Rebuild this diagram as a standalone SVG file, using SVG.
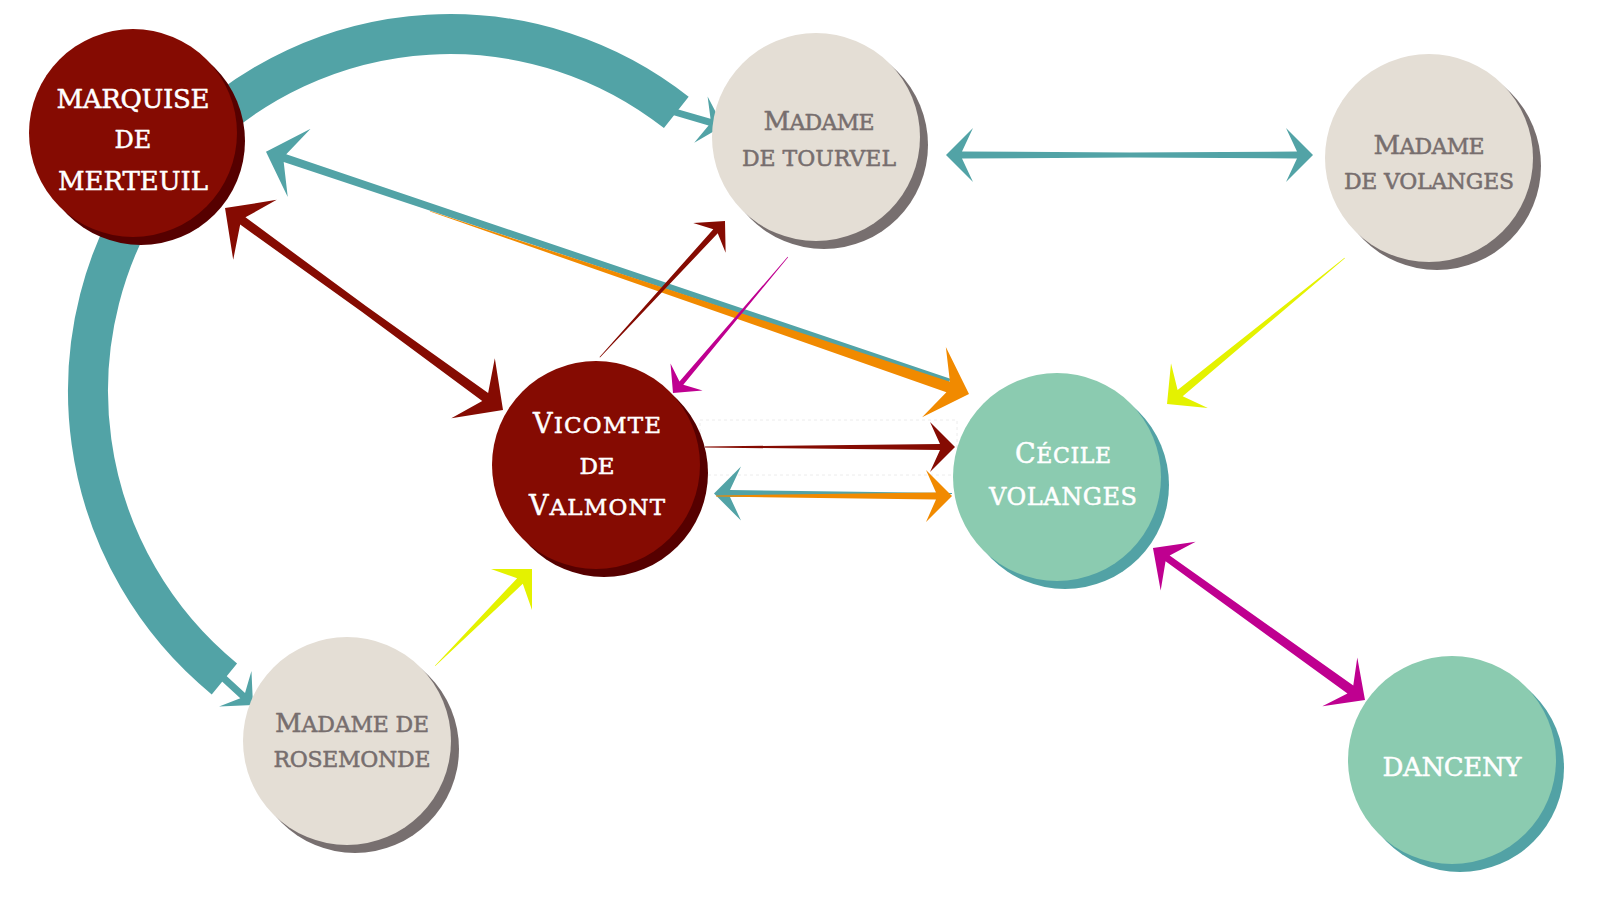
<svg xmlns="http://www.w3.org/2000/svg" width="1600" height="900" viewBox="0 0 1600 900">
<defs>
<style>
.t{font-family:"DejaVu Serif","Liberation Serif",serif;text-anchor:middle;stroke-width:0.5;stroke-linejoin:round}
.w{fill:#ffffff;stroke:#ffffff}
.g{fill:#776E6E;stroke:#776E6E}
.teal{fill:#52A3A6}
.maroon{fill:#850B02}
.orange{fill:#F18A00}
.magenta{fill:#BF0090}
.yellow{fill:#E4F200}
.band{fill:none;stroke:#52A3A6;stroke-width:40;stroke-linecap:butt}
.sh-m{fill:#560000}.fc-m{fill:#850B02}
.sh-b{fill:#776F6F}.fc-b{fill:#E4DED5}
.sh-g{fill:#52A2A5}.fc-g{fill:#8BCBB0}
</style>
</defs>
<rect width="1600" height="900" fill="#ffffff"/>

<g id="connectors">
  <rect x="700" y="420" width="257" height="55" fill="none" stroke="#ececec" stroke-width="1" stroke-dasharray="3,3"/>
  <!-- Merteuil -> Tourvel big arc -->
  <path class="band" d="M191.2,141.2 A366,366 0 0 1 676.3,112.4"/>
  <polygon class="teal" transform="translate(723,126) rotate(16.2)" points="0,0 -23,-24 -14,-3.5 -52,-3.5 -52,3.5 -14,3.5 -23,24"/>
  <!-- Merteuil -> Rosemonde big arc -->
  <path class="band" d="M155.3,177.6 A372,372 0 0 0 224.4,678.9"/>
  <polygon class="teal" transform="translate(253,705) rotate(42.4)" points="0,0 -24,-24 -14,-3.5 -42,-3.5 -42,3.5 -14,3.5 -24,24"/>
  <!-- Tourvel <-> Volanges -->
  <polygon class="teal" transform="translate(1313,155)" points="0,0 -27,-27 -16,-3.5 -183.5,-2.5 -351,-3.5 -340,-27 -367,0 -340,27 -351,3.5 -183.5,2.5 -16,3.5 -27,27"/>
  <!-- Cecile -> Merteuil (teal) -->
  <polygon class="teal" transform="translate(266,151.8) rotate(198.52)" points="0,0 -35,-36 -20,-4 -721,-2.25 -721,2.25 -20,4 -35,36"/>
  <!-- Merteuil -> Cecile (orange) -->
  <polygon class="orange" transform="translate(969,394) rotate(18.73)" points="0,0 -37,-37 -22,-5.5 -569,-0.2 -569,0.2 -22,5.5 -37,37"/>
  <!-- Merteuil <-> Valmont -->
  <polygon class="maroon" transform="translate(503,410) rotate(36)" points="0,0 -37,-37 -22,-5 -172,-3.5 -321.6,-4.5 -306.6,-37 -343.6,0 -306.6,37 -321.6,4.5 -172,3.5 -22,5 -37,37"/>
  <!-- Valmont -> Tourvel -->
  <polygon class="maroon" transform="translate(725,221) rotate(-47.4)" points="0,0 -23,-22 -14,-3 -185,-0.3 -185,0.3 -14,3 -23,22"/>
  <!-- Tourvel -> Valmont -->
  <polygon class="magenta" transform="translate(673,393) rotate(130.2)" points="0,0 -21,-21 -13,-2.5 -178,-0.3 -178,0.3 -13,2.5 -21,21"/>
  <!-- Volanges -> Cecile -->
  <polygon class="yellow" transform="translate(1167,404) rotate(140.6)" points="0,0 -29,-29 -17,-4 -230,-0.3 -230,0.3 -17,4 -29,29"/>
  <!-- Rosemonde -> Valmont -->
  <polygon class="yellow" transform="translate(532,569) rotate(-45)" points="0,0 -29,-29 -17,-4 -137,-0.3 -137,0.3 -17,4 -29,29"/>
  <!-- Valmont -> Cecile -->
  <polygon class="maroon" transform="translate(955,447)" points="0,0 -25,-25 -15,-3 -250,-0.5 -250,0.5 -15,3 -25,25"/>
  <!-- Cecile -> Valmont (teal) -->
  <polygon class="teal" transform="translate(714,493.5) rotate(180)" points="0,0 -27,-27 -16,-3.5 -238,-0.5 -238,0.5 -16,3.5 -27,27"/>
  <!-- Valmont -> Cecile (orange) -->
  <polygon class="orange" transform="translate(952,496)" points="0,0 -26,-26 -16,-3.5 -236,-0.5 -236,0.5 -16,3.5 -26,26"/>
  <!-- Cecile <-> Danceny -->
  <polygon class="magenta" transform="translate(1365,700) rotate(35.64)" points="0,0 -31,-30 -18,-5 -242.9,-3.5 -229.9,-30 -260.9,0 -229.9,30 -242.9,3.5 -18,5 -31,30"/>
</g>

<g id="merteuil">
  <circle class="sh-m" cx="141" cy="141" r="104"/>
  <circle class="fc-m" cx="133" cy="133" r="104"/>
  <text class="t w" x="133" y="108" font-size="26" textLength="153" lengthAdjust="spacing">MARQUISE</text>
  <text class="t w" x="133" y="148" font-size="24">DE</text>
  <text class="t w" x="133" y="190" font-size="26" textLength="150" lengthAdjust="spacing">MERTEUIL</text>
</g>

<g id="tourvel">
  <circle class="sh-b" cx="824" cy="145" r="104"/>
  <circle class="fc-b" cx="816" cy="137" r="104"/>
  <text class="t g" x="819" y="130" font-size="22" textLength="111" lengthAdjust="spacing"><tspan font-size="26">M</tspan>ADAME</text>
  <text class="t g" x="819" y="166" font-size="22" textLength="154" lengthAdjust="spacing">DE TOURVEL</text>
</g>

<g id="volanges">
  <circle class="sh-b" cx="1437" cy="166" r="104"/>
  <circle class="fc-b" cx="1429" cy="158" r="104"/>
  <text class="t g" x="1429" y="154" font-size="22" textLength="111" lengthAdjust="spacing"><tspan font-size="26">M</tspan>ADAME</text>
  <text class="t g" x="1429" y="189" font-size="22" textLength="170" lengthAdjust="spacing">DE VOLANGES</text>
</g>

<g id="valmont">
  <circle class="sh-m" cx="604" cy="473" r="104"/>
  <circle class="fc-m" cx="596" cy="465" r="104"/>
  <text class="t w" x="597" y="433" font-size="23" textLength="128" lengthAdjust="spacing"><tspan font-size="27">V</tspan>ICOMTE</text>
  <text class="t w" x="597" y="474" font-size="23">DE</text>
  <text class="t w" x="597" y="515" font-size="23" textLength="136" lengthAdjust="spacing"><tspan font-size="27">V</tspan>ALMONT</text>
</g>

<g id="cecile">
  <circle class="sh-g" cx="1065" cy="485" r="104"/>
  <circle class="fc-g" cx="1057" cy="477" r="104"/>
  <text class="t w" x="1063" y="463" font-size="22" textLength="96" lengthAdjust="spacing"><tspan font-size="27">C</tspan>ÉCILE</text>
  <text class="t w" x="1063" y="505" font-size="24" textLength="148" lengthAdjust="spacing">VOLANGES</text>
</g>

<g id="danceny">
  <circle class="sh-g" cx="1460" cy="768" r="104"/>
  <circle class="fc-g" cx="1452" cy="760" r="104"/>
  <text class="t w" x="1452" y="776" font-size="26" textLength="139" lengthAdjust="spacing">DANCENY</text>
</g>

<g id="rosemonde">
  <circle class="sh-b" cx="355" cy="749" r="104"/>
  <circle class="fc-b" cx="347" cy="741" r="104"/>
  <text class="t g" x="352" y="732" font-size="22" textLength="154" lengthAdjust="spacing"><tspan font-size="26">M</tspan>ADAME DE</text>
  <text class="t g" x="352" y="767" font-size="22" textLength="157" lengthAdjust="spacing">ROSEMONDE</text>
</g>
</svg>
